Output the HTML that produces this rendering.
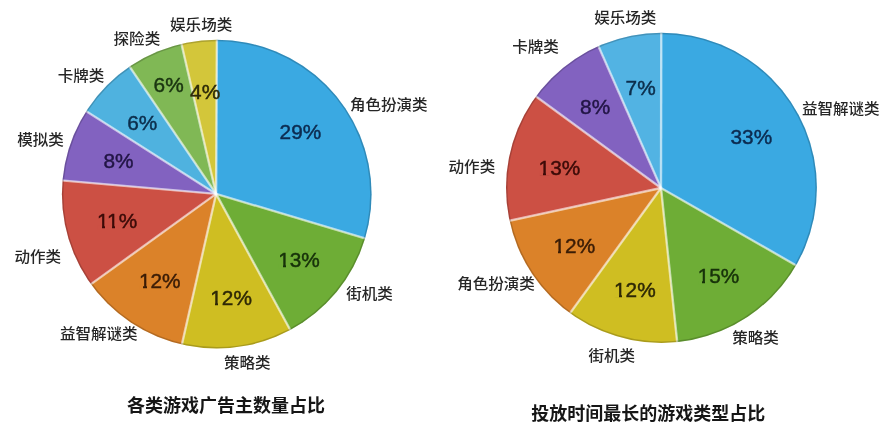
<!DOCTYPE html>
<html><head><meta charset="utf-8"><style>
html,body{margin:0;padding:0;background:#fff;}
svg{display:block;filter:blur(0.45px);}
line{stroke:#fff;stroke-width:2.4;stroke-opacity:0.6;}
.cn{font-family:"Liberation Sans","Noto Sans CJK SC",sans-serif;font-size:14.8px;font-weight:500;fill:#262626;}
.pct{font-family:"Liberation Sans",sans-serif;font-size:20.8px;stroke-width:0.45px;}
.ttl{font-family:"Liberation Sans","Noto Sans CJK SC",sans-serif;font-size:18px;font-weight:bold;fill:#161616;}
</style></head><body>
<svg width="885" height="434" viewBox="0 0 885 434">
<rect width="885" height="434" fill="#fff"/>
<clipPath id="cL"><ellipse cx="216.75" cy="194.15" rx="154.85" ry="154.35"/></clipPath>
<g clip-path="url(#cL)">
<path d="M216.10,193.90 L217.46,-66.10 L238.41,-65.14 L259.21,-62.50 L279.73,-58.19 L299.83,-52.25 L319.39,-44.70 L338.28,-35.60 L356.38,-25.01 L373.56,-12.99 L389.72,0.37 L404.75,14.99 L418.55,30.77 L431.04,47.61 L442.13,65.41 L451.75,84.04 L459.83,103.38 L466.34,123.32 L471.21,143.71 L474.42,164.43 L475.96,185.34 L475.80,206.31 L473.96,227.19 L470.44,247.86 L465.26,268.18 Z" fill="#3aa9e2"/>
<path d="M216.10,193.90 L465.26,268.18 L458.70,287.41 L450.65,306.08 L441.18,324.06 L430.32,341.24 L418.16,357.52 L404.76,372.81 L390.21,387.00 L374.59,400.01 L358.01,411.76 L340.56,422.18 Z" fill="#6ead36"/>
<path d="M216.10,193.90 L340.56,422.18 L323.76,430.57 L306.39,437.72 L288.55,443.60 L270.33,448.18 L251.84,451.43 L233.15,453.34 L214.38,453.89 L195.61,453.09 L176.95,450.94 L158.50,447.44 Z" fill="#cfbe22"/>
<path d="M216.10,193.90 L158.50,447.44 L140.34,442.62 L122.59,436.50 L105.32,429.12 L88.62,420.50 L72.60,410.71 L57.32,399.78 L42.87,387.78 L29.32,374.77 L16.75,360.82 L5.22,345.99 Z" fill="#db8229"/>
<path d="M216.10,193.90 L5.22,345.99 L-5.06,330.60 L-14.23,314.52 L-22.23,297.82 L-29.02,280.60 L-34.56,262.94 L-38.84,244.93 L-41.83,226.67 L-43.50,208.23 L-43.87,189.73 L-42.91,171.24 Z" fill="#cc5044"/>
<path d="M216.10,193.90 L-42.91,171.24 L-40.75,153.55 L-37.38,136.04 L-32.82,118.81 L-27.09,101.94 L-20.22,85.49 L-12.24,69.55 L-3.18,54.20 Z" fill="#8262c0"/>
<path d="M216.10,193.90 L-3.18,54.20 L6.78,39.67 L17.71,25.85 L29.55,12.80 L42.24,0.58 L55.73,-10.75 L69.96,-21.14 Z" fill="#4fb2df"/>
<path d="M216.10,193.90 L69.96,-21.14 L83.49,-29.74 L97.52,-37.49 L112.01,-44.35 L126.89,-50.32 L142.11,-55.35 L157.61,-59.44 Z" fill="#80b855"/>
<path d="M216.10,193.90 L157.61,-59.44 L172.40,-62.40 L187.34,-64.50 L202.38,-65.74 L217.46,-66.10 Z" fill="#d3c63a"/>
<line x1="216.1" y1="193.9" x2="217.15" y2="-6.10"/>
<line x1="216.1" y1="193.9" x2="407.76" y2="251.04"/>
<line x1="216.1" y1="193.9" x2="311.84" y2="369.50"/>
<line x1="216.1" y1="193.9" x2="171.79" y2="388.93"/>
<line x1="216.1" y1="193.9" x2="53.89" y2="310.89"/>
<line x1="216.1" y1="193.9" x2="16.86" y2="176.47"/>
<line x1="216.1" y1="193.9" x2="47.42" y2="86.44"/>
<line x1="216.1" y1="193.9" x2="103.68" y2="28.48"/>
<line x1="216.1" y1="193.9" x2="171.11" y2="-0.97"/>
<ellipse cx="216.75" cy="194.15" rx="154.85" ry="154.35" fill="none" stroke="#000" stroke-opacity="0.18" stroke-width="3.0"/>
</g>
<clipPath id="cR"><ellipse cx="661.45" cy="187.85" rx="155.45" ry="155.05"/></clipPath>
<g clip-path="url(#cR)">
<path d="M661.00,188.00 L661.45,-72.00 L683.15,-71.05 L704.70,-68.30 L725.94,-63.76 L746.73,-57.46 L766.92,-49.45 L786.37,-39.78 L804.94,-28.52 L822.51,-15.75 L838.96,-1.56 L854.16,13.96 L868.01,30.69 L880.42,48.52 L891.30,67.32 L900.56,86.96 L908.16,107.31 L914.03,128.22 L918.14,149.55 L920.45,171.15 L920.95,192.86 L919.64,214.55 L916.52,236.04 L911.62,257.20 L904.97,277.88 L896.62,297.93 L886.62,317.21 Z" fill="#3aa9e2"/>
<path d="M661.00,188.00 L886.62,317.21 L875.74,334.58 L863.53,351.03 L850.07,366.48 L835.42,380.81 L819.70,393.95 L802.99,405.81 L785.39,416.31 L767.03,425.40 L748.00,433.01 L728.44,439.10 L708.46,443.63 L688.18,446.58 Z" fill="#6ead36"/>
<path d="M661.00,188.00 L688.18,446.58 L669.17,447.87 L650.11,447.77 L631.12,446.28 L612.28,443.39 L593.71,439.14 L575.49,433.54 L557.74,426.62 L540.54,418.41 L523.99,408.97 L508.18,398.34 Z" fill="#cfbe22"/>
<path d="M661.00,188.00 L508.18,398.34 L493.25,386.65 L479.22,373.89 L466.15,360.15 L454.12,345.48 L443.19,329.99 L433.42,313.73 L424.86,296.81 L417.56,279.31 L411.55,261.32 L406.87,242.94 Z" fill="#db8229"/>
<path d="M661.00,188.00 L406.87,242.94 L403.41,223.29 L401.46,203.42 L401.04,183.46 L402.15,163.53 L404.79,143.75 L408.94,124.22 L414.58,105.07 L421.67,86.41 L430.17,68.35 L440.03,50.99 L451.19,34.44 Z" fill="#cc5044"/>
<path d="M661.00,188.00 L451.19,34.44 L461.68,21.05 L473.03,8.37 L485.18,-3.54 L498.08,-14.63 L511.68,-24.85 L525.93,-34.16 L540.74,-42.52 L556.08,-49.89 Z" fill="#8262c0"/>
<path d="M661.00,188.00 L556.08,-49.89 L572.86,-56.60 L590.06,-62.14 L607.61,-66.46 L625.41,-69.55 L643.39,-71.40 L661.45,-72.00 Z" fill="#52b3e3"/>
<line x1="661" y1="188" x2="661.35" y2="-12.00"/>
<line x1="661" y1="188" x2="834.55" y2="287.39"/>
<line x1="661" y1="188" x2="681.91" y2="386.90"/>
<line x1="661" y1="188" x2="543.44" y2="349.80"/>
<line x1="661" y1="188" x2="465.52" y2="230.26"/>
<line x1="661" y1="188" x2="499.61" y2="69.88"/>
<line x1="661" y1="188" x2="580.29" y2="5.01"/>
<ellipse cx="661.45" cy="187.85" rx="155.45" ry="155.05" fill="none" stroke="#000" stroke-opacity="0.18" stroke-width="3.0"/>
</g>
<text class="cn" transform="translate(170.1,29.6) scale(1.05,1)">娱乐场类</text>
<text class="cn" transform="translate(113.6,43.9) scale(1.05,1)">探险类</text>
<text class="cn" transform="translate(57.7,80.6) scale(1.05,1)">卡牌类</text>
<text class="cn" transform="translate(17.3,144.8) scale(1.05,1)">模拟类</text>
<text class="cn" transform="translate(14.5,261.6) scale(1.05,1)">动作类</text>
<text class="cn" transform="translate(59.9,338.8) scale(1.05,1)">益智解谜类</text>
<text class="cn" transform="translate(223.9,368.1) scale(1.05,1)">策略类</text>
<text class="cn" transform="translate(346.2,299.2) scale(1.05,1)">街机类</text>
<text class="cn" transform="translate(349.9,109.8) scale(1.05,1)">角色扮演类</text>
<text class="cn" transform="translate(594.2,23.4) scale(1.05,1)">娱乐场类</text>
<text class="cn" transform="translate(512.2,51.8) scale(1.05,1)">卡牌类</text>
<text class="cn" transform="translate(448.6,172.1) scale(1.05,1)">动作类</text>
<text class="cn" transform="translate(457.2,288.8) scale(1.05,1)">角色扮演类</text>
<text class="cn" transform="translate(588.5,360.6) scale(1.05,1)">街机类</text>
<text class="cn" transform="translate(732.2,342.9) scale(1.05,1)">策略类</text>
<text class="cn" transform="translate(802.0,113.8) scale(1.05,1)">益智解谜类</text>
<text class="pct" x="279.6" y="139.2" fill="#0c2b50" stroke="#0c2b50">29%</text>
<text class="pct" x="278.2" y="267.2" fill="#17320a" stroke="#17320a">13%</text>
<text class="pct" x="210.3" y="305.0" fill="#2e2806" stroke="#2e2806">12%</text>
<text class="pct" x="138.9" y="288.2" fill="#3a1c06" stroke="#3a1c06">12%</text>
<text class="pct" x="97.1" y="228.2" fill="#3c0b08" stroke="#3c0b08">11%</text>
<text class="pct" x="103.4" y="168.2" fill="#221545" stroke="#221545">8%</text>
<text class="pct" x="127.2" y="130.0" fill="#0c2e4c" stroke="#0c2e4c">6%</text>
<text class="pct" x="153.6" y="91.9" fill="#1a3410" stroke="#1a3410">6%</text>
<text class="pct" x="190.1" y="98.6" fill="#2e2a08" stroke="#2e2a08">4%</text>
<text class="pct" x="730.5" y="144.4" fill="#0c2b50" stroke="#0c2b50">33%</text>
<text class="pct" x="697.7" y="283.2" fill="#17320a" stroke="#17320a">15%</text>
<text class="pct" x="614.0" y="296.6" fill="#2e2806" stroke="#2e2806">12%</text>
<text class="pct" x="553.5" y="253.4" fill="#3a1c06" stroke="#3a1c06">12%</text>
<text class="pct" x="538.6" y="174.5" fill="#3c0b08" stroke="#3c0b08">13%</text>
<text class="pct" x="580.1" y="114.3" fill="#221545" stroke="#221545">8%</text>
<text class="pct" x="625.6" y="94.5" fill="#0c2e4c" stroke="#0c2e4c">7%</text>
<rect x="278.58" y="264.50" width="4.42" height="3.95" fill="#6ead36"/>
<rect x="286.00" y="264.50" width="3.95" height="3.95" fill="#6ead36"/>
<rect x="210.73" y="302.20" width="4.27" height="3.95" fill="#cfbe22"/>
<rect x="218.00" y="302.20" width="4.10" height="3.95" fill="#cfbe22"/>
<rect x="139.23" y="285.45" width="3.77" height="3.95" fill="#db8229"/>
<rect x="147.00" y="285.45" width="3.60" height="3.95" fill="#db8229"/>
<rect x="97.48" y="225.45" width="4.52" height="3.95" fill="#cc5044"/>
<rect x="105.00" y="225.45" width="3.85" height="3.95" fill="#cc5044"/>
<rect x="107.51" y="225.45" width="4.49" height="3.95" fill="#cc5044"/>
<rect x="115.00" y="225.45" width="3.88" height="3.95" fill="#cc5044"/>
<rect x="698.08" y="280.50" width="3.92" height="3.95" fill="#6ead36"/>
<rect x="705.00" y="280.50" width="4.45" height="3.95" fill="#6ead36"/>
<rect x="614.38" y="293.90" width="4.62" height="3.95" fill="#cfbe22"/>
<rect x="622.00" y="293.90" width="3.75" height="3.95" fill="#cfbe22"/>
<rect x="553.93" y="250.65" width="4.07" height="3.95" fill="#db8229"/>
<rect x="561.00" y="250.65" width="4.30" height="3.95" fill="#db8229"/>
<rect x="539.03" y="171.75" width="3.97" height="3.95" fill="#cc5044"/>
<rect x="546.00" y="171.75" width="4.40" height="3.95" fill="#cc5044"/>
<text class="ttl" x="127.1" y="411.5">各类游戏广告主数量占比</text>
<text class="ttl" x="531.3" y="420.2">投放时间最长的游戏类型占比</text>
</svg>
</body></html>
